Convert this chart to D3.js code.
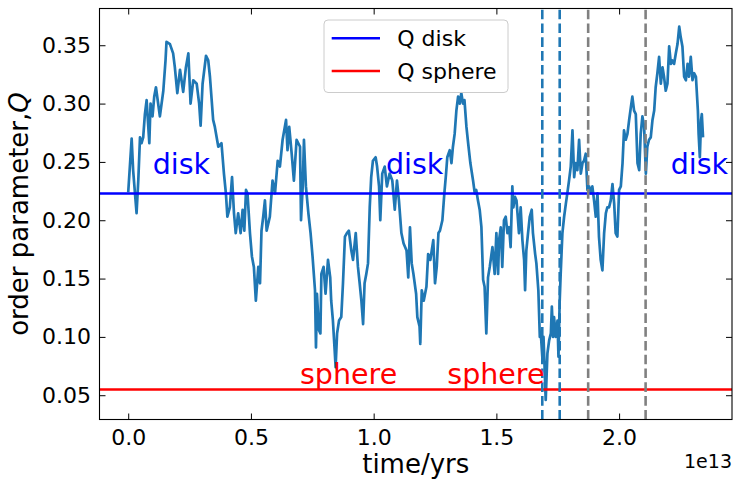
<!DOCTYPE html>
<html>
<head>
<meta charset="utf-8">
<script src="https://cdn.jsdelivr.net/npm/d3@7/dist/d3.min.js"></script>
<style>
  html, body { margin: 0; padding: 0; background: #fff; }
  svg { display: block; font-family: "DejaVu Sans", sans-serif; }
</style>
</head>
<body>
<svg id="chart"></svg>
<script>
// time in units of 1e13 yr
const timeE13 = [
  0, 0.014, 0.020, 0.034, 0.041, 0.048, 0.054, 0.061, 0.068, 0.075, 0.086, 0.091, 0.099, 0.106, 0.113,
  0.129, 0.143, 0.152, 0.156, 0.170, 0.183, 0.190, 0.200, 0.211, 0.224, 0.235, 0.245, 0.254, 0.265,
  0.279, 0.289, 0.295, 0.303, 0.317, 0.326, 0.333, 0.346, 0.353, 0.367, 0.380, 0.390, 0.398, 0.404,
  0.414, 0.423, 0.431, 0.438, 0.448, 0.458, 0.466, 0.473, 0.480, 0.486, 0.496, 0.504, 0.512, 0.520,
  0.530, 0.537, 0.543, 0.550, 0.557, 0.564, 0.577, 0.588, 0.598, 0.609, 0.618, 0.629, 0.643, 0.649,
  0.656, 0.666, 0.675, 0.686, 0.700, 0.704, 0.711, 0.716, 0.724, 0.734, 0.743, 0.751, 0.761, 0.765,
  0.769, 0.777, 0.783, 0.787, 0.796, 0.804, 0.814, 0.823, 0.827, 0.834, 0.841, 0.845, 0.851, 0.859,
  0.868, 0.875, 0.883, 0.891, 0.899, 0.909, 0.916, 0.927, 0.936, 0.943, 0.950, 0.957, 0.963, 0.970,
  0.977, 0.984, 0.990, 0.997, 1.008, 1.014, 1.022, 1.027, 1.035, 1.045, 1.054, 1.065, 1.076, 1.086,
  1.095, 1.103, 1.113, 1.122, 1.134, 1.141, 1.148, 1.155, 1.162, 1.173, 1.178, 1.187, 1.190, 1.196,
  1.204, 1.215, 1.222, 1.231, 1.243, 1.250, 1.257, 1.264, 1.270, 1.280, 1.288, 1.295, 1.300, 1.310,
  1.317, 1.323, 1.330, 1.337, 1.344, 1.351, 1.357, 1.364, 1.370, 1.378, 1.385, 1.394, 1.405, 1.412,
  1.418, 1.425, 1.432, 1.439, 1.446, 1.452, 1.459, 1.466, 1.473, 1.484, 1.493, 1.500, 1.507,
  1.511, 1.518, 1.524, 1.531, 1.538, 1.545, 1.552, 1.558, 1.565, 1.569, 1.576, 1.582, 1.586, 1.592,
  1.599, 1.606, 1.613, 1.617, 1.622, 1.629, 1.636, 1.644, 1.649, 1.658, 1.663, 1.671, 1.677, 1.681,
  1.688, 1.692, 1.696, 1.701, 1.708, 1.715, 1.722, 1.726, 1.731, 1.735, 1.742, 1.749, 1.753, 1.758,
  1.762, 1.769, 1.776, 1.783, 1.789, 1.796, 1.803, 1.810, 1.817, 1.823, 1.830, 1.837, 1.844, 1.851,
  1.857, 1.864, 1.871, 1.878, 1.885, 1.891, 1.898, 1.905, 1.912, 1.918, 1.925, 1.932, 1.939, 1.946,
  1.952, 1.959, 1.966, 1.973, 1.980, 1.986, 1.993, 2.000, 2.007, 2.014, 2.020, 2.027, 2.034, 2.041,
  2.048, 2.054, 2.061, 2.068, 2.075, 2.082, 2.088, 2.095, 2.102, 2.109, 2.115, 2.122, 2.129, 2.136,
  2.143, 2.149, 2.156, 2.163, 2.170, 2.177, 2.183, 2.190, 2.197, 2.204, 2.211, 2.217, 2.224, 2.231,
  2.238, 2.245, 2.251, 2.258, 2.265, 2.272, 2.279, 2.285, 2.292, 2.299, 2.306, 2.313, 2.321, 2.324,
  2.329, 2.334, 2.337, 2.342
];

const orderQ = [
  0.224, 0.270, 0.243, 0.206, 0.234, 0.271, 0.266, 0.271, 0.291, 0.303, 0.266, 0.300, 0.289, 0.306, 0.314,
  0.289, 0.311, 0.337, 0.353, 0.351, 0.343, 0.331, 0.309, 0.329, 0.310, 0.331, 0.343, 0.300, 0.320,
  0.317, 0.300, 0.281, 0.317, 0.341, 0.337, 0.323, 0.286, 0.280, 0.263, 0.266, 0.240, 0.223, 0.203,
  0.211, 0.237, 0.206, 0.189, 0.206, 0.189, 0.209, 0.191, 0.226, 0.223, 0.189, 0.169, 0.160, 0.131,
  0.160, 0.146, 0.191, 0.203, 0.217, 0.191, 0.203, 0.234, 0.223, 0.251, 0.246, 0.269, 0.286, 0.260,
  0.280, 0.257, 0.234, 0.269, 0.263, 0.200, 0.229, 0.269, 0.229, 0.206, 0.189, 0.169, 0.140, 0.091,
  0.137, 0.106, 0.103, 0.154, 0.160, 0.137, 0.166, 0.151, 0.131, 0.114, 0.089, 0.074, 0.103, 0.114,
  0.117, 0.146, 0.186, 0.189, 0.191, 0.174, 0.166, 0.189, 0.160, 0.146, 0.131, 0.111, 0.146, 0.154,
  0.163, 0.211, 0.237, 0.251, 0.254, 0.246, 0.229, 0.200, 0.240, 0.246, 0.229, 0.240, 0.234, 0.209,
  0.234, 0.217, 0.189, 0.180, 0.174, 0.151, 0.194, 0.163, 0.154, 0.137, 0.117, 0.109, 0.094, 0.140,
  0.131, 0.143, 0.171, 0.166, 0.183, 0.146, 0.160, 0.189, 0.191, 0.200, 0.223, 0.240, 0.254, 0.260,
  0.249, 0.263, 0.274, 0.294, 0.306, 0.300, 0.309, 0.300, 0.303, 0.280, 0.266, 0.249, 0.234, 0.223,
  0.226, 0.217, 0.209, 0.194, 0.149, 0.143, 0.103, 0.151, 0.160, 0.177, 0.154, 0.189, 0.154,
  0.183, 0.194, 0.160, 0.200, 0.203, 0.189, 0.194, 0.177, 0.229, 0.211, 0.220, 0.217, 0.206, 0.189,
  0.211, 0.183, 0.166, 0.140, 0.174, 0.189, 0.203, 0.209, 0.189, 0.171, 0.163, 0.140, 0.100, 0.103,
  0.080, 0.100, 0.077, 0.046, 0.086, 0.097, 0.103, 0.126, 0.100, 0.117, 0.100, 0.114, 0.083, 0.131,
  0.154, 0.189, 0.203, 0.214, 0.223, 0.234, 0.246, 0.277, 0.237, 0.249, 0.243, 0.269, 0.240, 0.249,
  0.251, 0.257, 0.226, 0.229, 0.223, 0.229, 0.217, 0.203, 0.223, 0.186, 0.166, 0.157, 0.189, 0.206,
  0.211, 0.211, 0.217, 0.231, 0.214, 0.189, 0.186, 0.226, 0.229, 0.249, 0.277, 0.269, 0.274, 0.286,
  0.297, 0.306, 0.294, 0.291, 0.249, 0.243, 0.274, 0.289, 0.280, 0.240, 0.263, 0.269, 0.271, 0.286,
  0.294, 0.314, 0.326, 0.340, 0.317, 0.331, 0.323, 0.311, 0.317, 0.349, 0.334, 0.337, 0.334, 0.343,
  0.351, 0.366, 0.357, 0.349, 0.323, 0.320, 0.334, 0.323, 0.340, 0.320, 0.326, 0.323, 0.294, 0.274,
  0.254, 0.286, 0.291, 0.271
];

const qDisk = 0.2229;
const qSphere = 0.0549;
const blueMarks = [1.687, 1.758];   // 1e13 yr
const grayMarks = [1.874, 2.108];

const diskLabels = [0.1, 1.05, 2.21];
const diskLabelQ = 0.24;
const sphereLabels = [0.7, 1.3];
const sphereLabelQ = 0.06;

const xTicks = [0, 0.5, 1.0, 1.5, 2.0];
const yTicks = [0.05, 0.10, 0.15, 0.20, 0.25, 0.30, 0.35];

const legendItems = [
  {label: 'Q disk', color: '#0000ff'},
  {label: 'Q sphere', color: '#ff0000'}
];

const W = 735, H = 481;
const margin = {top: 8.5, right: 3, bottom: 61.5, left: 99.5};
const width = W - margin.left - margin.right;
const height = H - margin.top - margin.bottom;

const data = timeE13.map((t, i) => ({t: t * 1e13, q: orderQ[i]}));

const svg = d3.select('#chart')
    .attr('width', W)
    .attr('height', H);

const g = svg.append('g')
    .attr('transform', `translate(${margin.left}, ${margin.top})`);

const x = d3.scaleLinear()
    .domain([-0.117e13, 2.460e13])
    .range([0, width]);

const y = d3.scaleLinear()
    .domain([0.0292, 0.3815])
    .range([height, 0]);

g.append('defs').append('clipPath')
    .attr('id', 'clip')
  .append('rect')
    .attr('width', width)
    .attr('height', height);

const plot = g.append('g').attr('clip-path', 'url(#clip)');

const line = d3.line()
    .x(d => x(d.t))
    .y(d => y(d.q));

plot.append('path')
    .datum(data)
    .attr('d', line)
    .style('fill', 'none')
    .style('stroke', '#1f77b4')
    .style('stroke-width', 2.7)
    .style('stroke-linejoin', 'round');

plot.selectAll('.hline')
    .data([{q: qDisk, c: '#0000ff'}, {q: qSphere, c: '#ff0000'}])
  .enter().append('line')
    .attr('x1', 0)
    .attr('x2', width)
    .attr('y1', d => y(d.q))
    .attr('y2', d => y(d.q))
    .style('stroke', d => d.c)
    .style('stroke-width', 2.6);

const vmarks = blueMarks.map(t => ({t, c: '#1f77b4'}))
    .concat(grayMarks.map(t => ({t, c: '#808080'})));

plot.selectAll('.vline')
    .data(vmarks)
  .enter().append('line')
    .attr('x1', d => x(d.t * 1e13))
    .attr('x2', d => x(d.t * 1e13))
    .attr('y1', height)
    .attr('y2', 0)
    .style('stroke', d => d.c)
    .style('stroke-width', 2.6)
    .style('stroke-dasharray', '9.6,4.2');

// text labels
g.selectAll('.disk-label')
    .data(diskLabels)
  .enter().append('text')
    .attr('x', d => x(d * 1e13))
    .attr('y', y(diskLabelQ))
    .style('fill', '#0000ff')
    .style('font-size', '28.5px')
    .text('disk');

g.selectAll('.sphere-label')
    .data(sphereLabels)
  .enter().append('text')
    .attr('x', d => x(d * 1e13))
    .attr('y', y(sphereLabelQ))
    .style('fill', '#ff0000')
    .style('font-size', '28.5px')
    .text('sphere');

// axes, ticks inward on all sides
const tickLen = 6;
const fmtX = d3.format('.1f');
const fmtY = d3.format('.2f');

g.append('g')
    .attr('transform', `translate(0, ${height})`)
    .call(d3.axisBottom(x).tickValues(xTicks.map(v => v * 1e13)).tickSizeInner(-tickLen).tickSizeOuter(0)
      .tickPadding(10).tickFormat(d => fmtX(d / 1e13)));

g.append('g')
    .call(d3.axisTop(x).tickValues(xTicks.map(v => v * 1e13)).tickSizeInner(-tickLen).tickSizeOuter(0).tickFormat(''));

g.append('g')
    .call(d3.axisLeft(y).tickValues(yTicks).tickSizeInner(-tickLen).tickSizeOuter(0)
      .tickPadding(8.5).tickFormat(fmtY));

g.append('g')
    .attr('transform', `translate(${width}, 0)`)
    .call(d3.axisRight(y).tickValues(yTicks).tickSizeInner(-tickLen).tickSizeOuter(0).tickFormat(''));

g.selectAll('.domain').remove();
g.selectAll('.tick line').style('stroke', '#000').style('stroke-width', 1);
g.selectAll('.tick text')
    .style('font-family', '"DejaVu Sans", sans-serif')
    .style('font-size', '22px')
    .style('fill', '#000');

g.append('rect')
    .attr('width', width)
    .attr('height', height)
    .style('fill', 'none')
    .style('stroke', '#000')
    .style('stroke-width', 1.1);

// axis labels
g.append('text')
    .attr('x', width / 2)
    .attr('y', 473 - margin.top)
    .attr('text-anchor', 'middle')
    .style('font-size', '26px')
    .text('time/yrs');

g.append('text')
    .attr('x', width)
    .attr('y', 468 - margin.top)
    .attr('text-anchor', 'end')
    .style('font-size', '19px')
    .text('1e13');

const ylab = g.append('text')
    .attr('transform', `translate(${28 - margin.left}, ${height / 2}) rotate(-90)`)
    .attr('text-anchor', 'middle')
    .style('font-size', '26px');
ylab.append('tspan').text('order parameter,');
ylab.append('tspan').style('font-style', 'italic').text('Q');

// legend
const legend = g.append('g')
    .attr('transform', `translate(${324 - margin.left}, ${20 - margin.top})`);

legend.append('rect')
    .attr('width', 184)
    .attr('height', 72.5)
    .attr('rx', 4)
    .style('fill', '#fff')
    .style('fill-opacity', 0.8)
    .style('stroke', '#cccccc')
    .style('stroke-width', 1);

const items = legend.selectAll('.item')
    .data(legendItems)
  .enter().append('g')
    .attr('transform', (d, i) => `translate(0, ${18.3 + i * 32.7})`);

items.append('line')
    .attr('x1', 7.7)
    .attr('x2', 56)
    .style('stroke', d => d.color)
    .style('stroke-width', 2.6);

items.append('text')
    .attr('x', 73.3)
    .attr('dy', '0.36em')
    .style('font-size', '22px')
    .text(d => d.label);
</script>
</body>
</html>
